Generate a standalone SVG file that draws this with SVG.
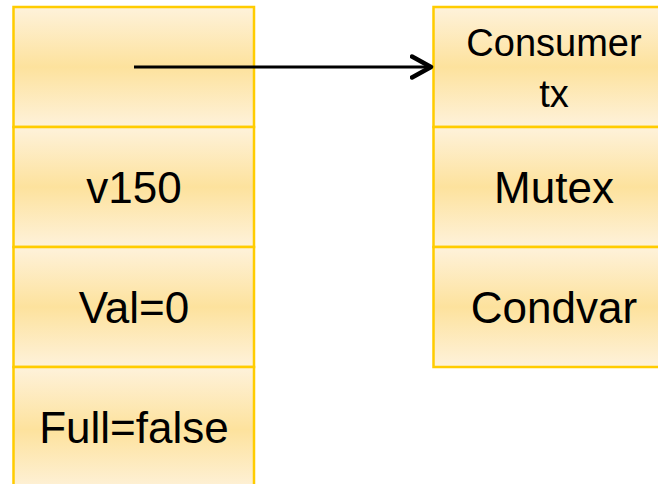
<svg xmlns="http://www.w3.org/2000/svg" width="658" height="484" viewBox="0 0 658 484">
<defs>
<linearGradient id="g" x1="0" y1="0" x2="0" y2="1">
<stop offset="0" stop-color="#FEF2DB"/>
<stop offset="0.5" stop-color="#FDE29D"/>
<stop offset="1" stop-color="#FEF2DB"/>
</linearGradient>
<marker id="arr" markerUnits="userSpaceOnUse" markerWidth="28" markerHeight="30" refX="21" refY="12" orient="auto" viewBox="0 0 28 24">
<polyline points="2,1.5 21,12 2,22.5" fill="none" stroke="#000" stroke-width="4.5" stroke-linecap="round" stroke-linejoin="round"/>
</marker>
</defs>
<style>
.box{fill:url(#g);stroke:#FFCC00;stroke-width:2.5}
.t{font-family:"Liberation Sans",Arial,sans-serif;font-size:44px;fill:#000;text-anchor:middle}
.s{font-size:38px}
</style>
<rect width="658" height="484" fill="#fff"/>
<g id="left-ptr"><rect class="box" x="13.5" y="7" width="240.5" height="120"/></g>
<g id="left-v150"><rect class="box" x="13.5" y="127" width="240.5" height="120"/><text class="t" x="134" y="203">v150</text></g>
<g id="left-val"><rect class="box" x="13.5" y="247" width="240.5" height="120"/><text class="t" x="134" y="323">Val=0</text></g>
<g id="left-full"><rect class="box" x="13.5" y="367" width="240.5" height="125"/><text class="t" x="134" y="443">Full=false</text></g>
<g id="right-consumer"><rect class="box" x="433.5" y="7" width="241" height="120"/><text class="t s" x="554" y="56">Consumer</text><text class="t s" x="554" y="107">tx</text></g>
<g id="right-mutex"><rect class="box" x="433.5" y="127" width="241" height="120"/><text class="t" x="554" y="203">Mutex</text></g>
<g id="right-condvar"><rect class="box" x="433.5" y="247" width="241" height="120"/><text class="t" x="554" y="323">Condvar</text></g>
<g id="connectors">
<line x1="134" y1="67" x2="431" y2="67" stroke="#000" stroke-width="3.2" marker-end="url(#arr)"/>
</g>
</svg>
